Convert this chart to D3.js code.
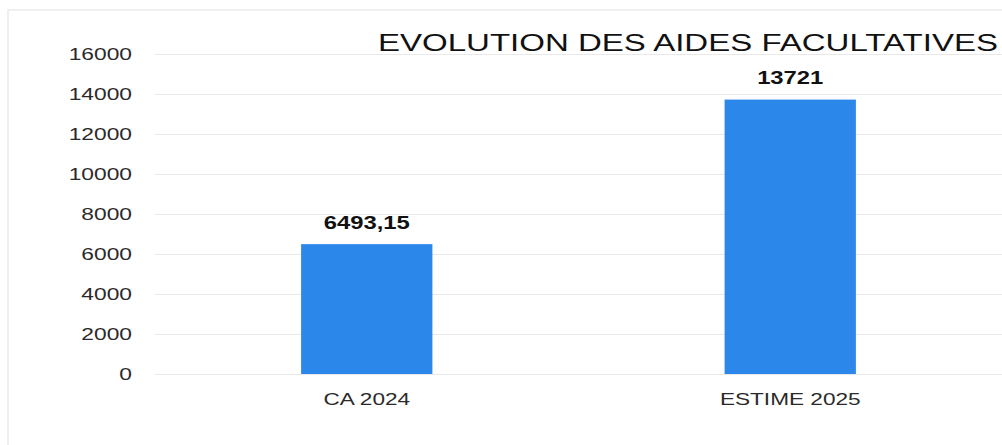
<!DOCTYPE html>
<html><head><meta charset="utf-8">
<script src="https://cdn.jsdelivr.net/npm/d3@7"></script>
<style>body{margin:0;background:#fff}svg{display:block}text{font-family:"Liberation Sans",Arial,sans-serif}</style>
</head><body><svg id="c" width="1002" height="445"></svg>
<script>
const categories = ["CA 2024", "ESTIME 2025"];
const values = [6493.15, 13721];
const valueLabels = ["6493,15", "13721"];
const yTicks = [0, 2000, 4000, 6000, 8000, 10000, 12000, 14000, 16000];
const title = "EVOLUTION DES AIDES FACULTATIVES";

const svg = d3.select("#c");
const W = 1002, H = 445;
const x = d3.scaleBand().domain(categories).range([155, 1002]).paddingInner(0.69).paddingOuter(0.345);
const y = d3.scaleLinear().domain([0, 16000]).range([374, 54]);

function stretch(sel, f) {
  sel.each(function() {
    const w = this.getComputedTextLength();
    d3.select(this).attr("textLength", w * f).attr("lengthAdjust", "spacingAndGlyphs");
  });
}

svg.append("rect").attr("x", 8).attr("y", 10).attr("width", W + 10).attr("height", H + 10)
  .attr("fill", "none").attr("stroke", "#ebebeb").attr("stroke-width", 1.5);

const ya = svg.append("g").attr("transform", "translate(155,0)")
  .call(d3.axisLeft(y).tickValues(yTicks).tickSize(-(W - 155)).tickPadding(23).tickFormat(d3.format("d")));
ya.select(".domain").remove();
ya.selectAll(".tick line").attr("stroke", "#e8e8e8").attr("stroke-width", 1.2);
ya.selectAll(".tick text").attr("fill", "#2a2a2a").attr("font-size", 16.5).attr("dy", "0.36em");
stretch(ya.selectAll(".tick text"), 1.38);

svg.selectAll(".bar").data(values).join("rect").attr("class", "bar")
  .attr("x", (d, i) => x(categories[i])).attr("width", x.bandwidth())
  .attr("y", d => y(d)).attr("height", d => y(0) - y(d)).attr("fill", "#2b87e9");

const vl = svg.selectAll(".vl").data(values).join("text").attr("class", "vl")
  .attr("x", (d, i) => x(categories[i]) + x.bandwidth() / 2).attr("y", d => y(d) - 15.5)
  .attr("text-anchor", "middle").attr("font-size", 17.5).attr("font-weight", "bold").attr("fill", "#111")
  .text((d, i) => valueLabels[i]);
stretch(vl, 1.36);

const xa = svg.append("g").attr("transform", "translate(0,374)").call(d3.axisBottom(x).tickSize(0).tickPadding(19));
xa.select(".domain").remove();
xa.selectAll(".tick text").attr("fill", "#2a2a2a").attr("font-size", 16.5);
stretch(xa.selectAll(".tick text"), 1.37);

const t = svg.append("text").attr("x", 378).attr("y", 50.5).attr("text-anchor", "start")
  .attr("font-size", 23.5).attr("fill", "#111").text(title);
t.attr("textLength", 620).attr("lengthAdjust", "spacingAndGlyphs");
</script></body></html>
